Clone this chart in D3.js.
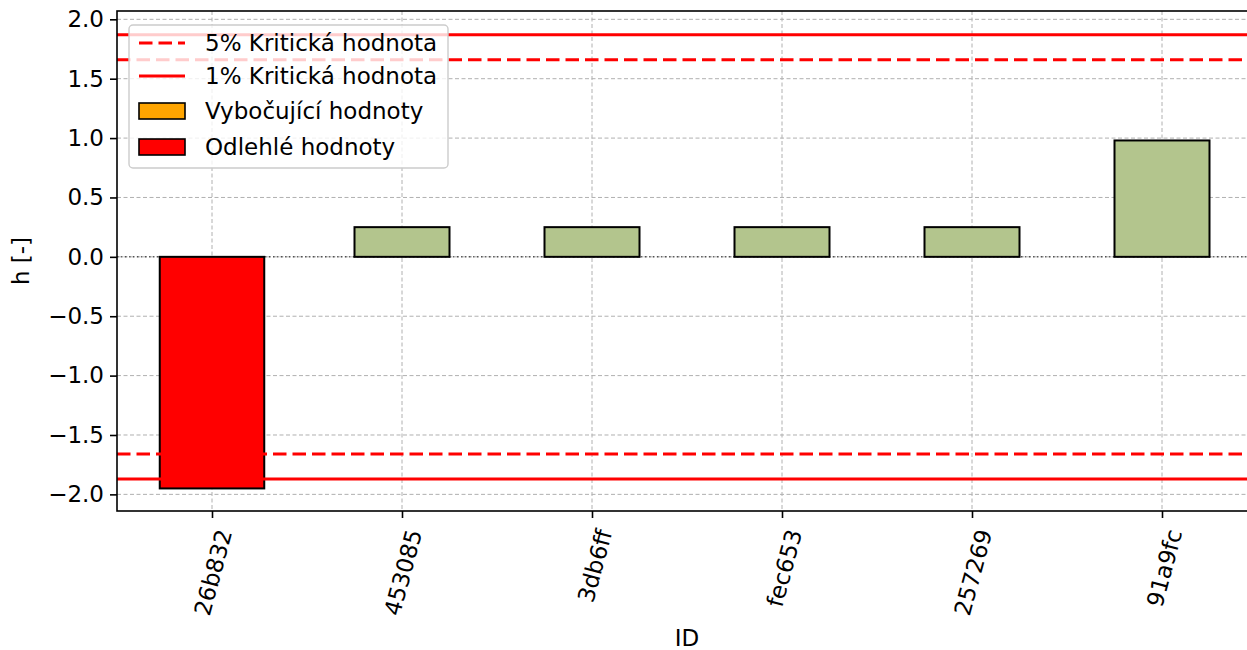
<!DOCTYPE html>
<html><head><meta charset="utf-8">
<script src="https://cdn.jsdelivr.net/npm/d3@7"></script>
<style>body{margin:0;background:#fff;} svg{display:block;font-family:"DejaVu Sans",sans-serif;}</style>
</head><body><svg id="c" width="1247" height="650"></svg>
<script>
const categories = ["26b832","453085","3db6ff","fec653","257269","91a9fc"];
const values = [-1.95, 0.25, 0.25, 0.25, 0.25, 0.98];
const kinds = ["odlehle","normal","normal","normal","normal","normal"];
const crit5 = 1.66;
const crit1 = 1.87;
const yTicks = [-2.0,-1.5,-1.0,-0.5,0.0,0.5,1.0,1.5,2.0];
const legendLabels = ["5% Kritická hodnota","1% Kritická hodnota","Vybočující hodnoty","Odlehlé hodnoty"];

const FS = 23;
const DASH = "13.5,6";
const svg = d3.select("#c");
const L=117, R=1257, T=11, B=511;
const x = d3.scaleLinear().domain([-0.5, categories.length-0.5]).range([L,R]);
const y = d3.scaleLinear().domain([-2.14, 2.07]).range([B,T]);
const colors = {normal:"#b3c58d", vyb:"orange", odlehle:"red"};
const widths = {normal:0.5, vyb:0.5, odlehle:0.55};
const step = x(1)-x(0);

const g = svg.append("g");
// grid
g.selectAll(".hg").data(yTicks).join("line")
  .attr("x1",L).attr("x2",R).attr("y1",d=>y(d)).attr("y2",d=>y(d))
  .attr("stroke","#b0b0b0").attr("stroke-width",1).attr("stroke-dasharray","4,2.5");
g.selectAll(".vg").data(categories).join("line")
  .attr("x1",(d,i)=>x(i)).attr("x2",(d,i)=>x(i)).attr("y1",T).attr("y2",B)
  .attr("stroke","#b0b0b0").attr("stroke-width",1).attr("stroke-dasharray","4,2.5");
// zero line
g.append("line").attr("x1",L).attr("x2",R).attr("y1",y(0)).attr("y2",y(0))
  .attr("stroke","#000").attr("stroke-width",0.9).attr("stroke-dasharray","1.5,2.5");
// bars
g.selectAll(".bar").data(values).join("rect")
  .attr("x",(d,i)=>x(i)-widths[kinds[i]]*step/2)
  .attr("width",(d,i)=>widths[kinds[i]]*step)
  .attr("y",d=>y(Math.max(0,d))).attr("height",d=>Math.abs(y(d)-y(0)))
  .attr("fill",(d,i)=>colors[kinds[i]]).attr("stroke","#000").attr("stroke-width",2);
// critical lines
[[crit5,DASH],[-crit5,DASH],[crit1,null],[-crit1,null]].forEach(([v,da])=>{
  const l=g.append("line").attr("x1",L).attr("x2",R).attr("y1",y(v)).attr("y2",y(v))
   .attr("stroke","red").attr("stroke-width",3);
  if(da) l.attr("stroke-dasharray",da);
});
// axes frame
svg.append("rect").attr("x",L).attr("y",T).attr("width",R-L).attr("height",B-T)
  .attr("fill","none").attr("stroke","#000").attr("stroke-width",1.6);
// y axis
const ya = svg.append("g").attr("transform",`translate(${L},0)`)
  .call(d3.axisLeft(y).tickValues(yTicks).tickSize(7).tickPadding(6)
    .tickFormat(d=>d3.format(".1f")(d).replace("-","\u2212")));
ya.select(".domain").remove();
ya.selectAll("line").attr("stroke-width",1.6);
ya.selectAll("text").attr("font-size",FS).attr("font-family","DejaVu Sans").attr("fill","#000");
// x axis
const xa = svg.append("g").attr("transform",`translate(0,${B})`)
  .call(d3.axisBottom(x).tickValues(d3.range(categories.length)).tickSize(7).tickFormat(i=>categories[i]));
xa.select(".domain").remove();
xa.selectAll("line").attr("stroke-width",1.6);
xa.selectAll("text").attr("font-size",FS).attr("font-family","DejaVu Sans").attr("fill","#000")
  .attr("text-anchor","end").attr("dy","0.35em")
  .attr("transform","translate(12,19) rotate(-75)").attr("y",0).attr("x",0);
// labels
svg.append("text").attr("x",(L+R)/2).attr("y",646).attr("text-anchor","middle")
  .attr("font-size",FS).text("ID");
svg.append("text").attr("transform",`translate(29,${(T+B)/2}) rotate(-90)`).attr("text-anchor","middle")
  .attr("font-size",FS).text("h [-]");
// legend
const lg = svg.append("g");
lg.append("rect").attr("x",129).attr("y",25).attr("width",319).attr("height",143).attr("rx",4)
  .attr("fill","rgba(255,255,255,0.8)").attr("stroke","#ccc").attr("stroke-width",1.4);
const rows=[43,76,111,147];
lg.append("line").attr("x1",139).attr("x2",185).attr("y1",rows[0]).attr("y2",rows[0])
  .attr("stroke","red").attr("stroke-width",3).attr("stroke-dasharray",DASH);
lg.append("line").attr("x1",139).attr("x2",185).attr("y1",rows[1]).attr("y2",rows[1])
  .attr("stroke","red").attr("stroke-width",3);
lg.append("rect").attr("x",139).attr("y",rows[2]-8).attr("width",46).attr("height",16)
  .attr("fill",colors.vyb).attr("stroke","#000").attr("stroke-width",1.6);
lg.append("rect").attr("x",139).attr("y",rows[3]-8).attr("width",46).attr("height",16)
  .attr("fill",colors.odlehle).attr("stroke","#000").attr("stroke-width",1.6);
legendLabels.forEach((t,i)=>{
  lg.append("text").attr("x",205).attr("y",rows[i]).attr("dy","0.35em").attr("font-size",FS).text(t);
});
</script></body></html>
